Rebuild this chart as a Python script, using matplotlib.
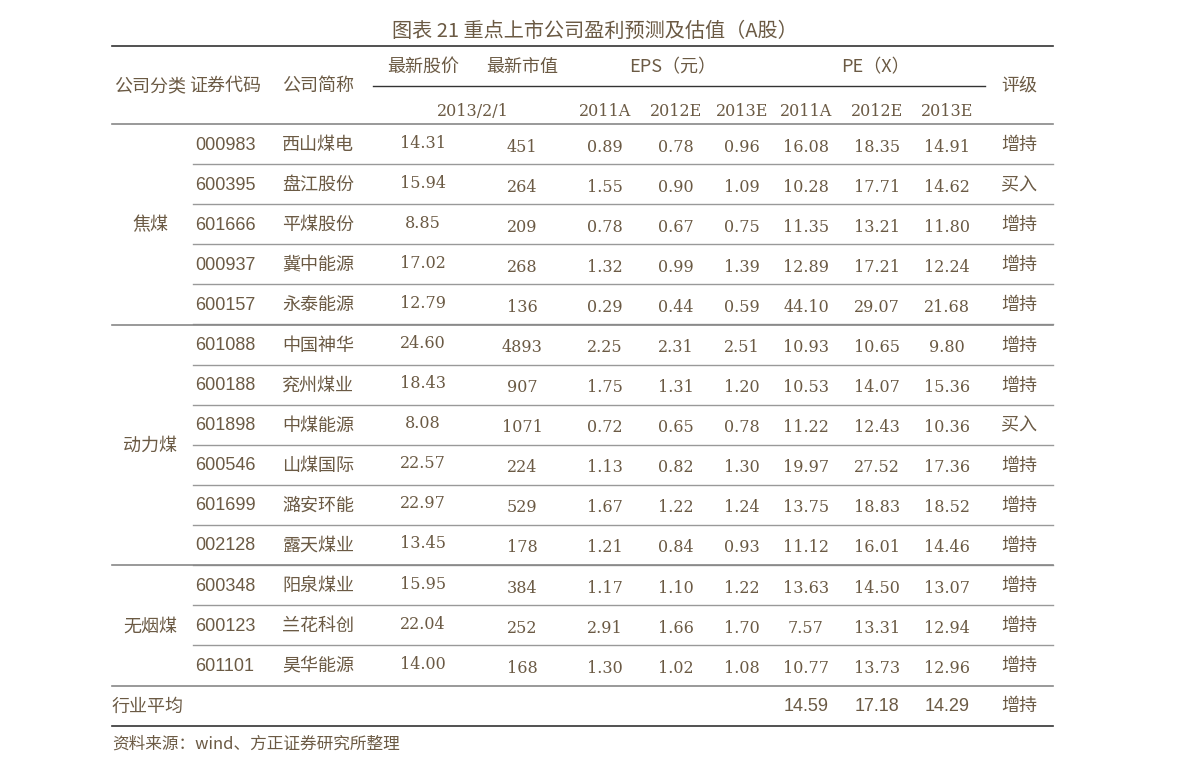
import matplotlib.pyplot as plt

codes = ["000983", "600395", "601666", "000937", "600157", "601088", "600188",
         "601898", "600546", "601699", "002128", "600348", "600123", "601101"]
names = ["西山煤电", "盘江股份", "平煤股份", "冀中能源", "永泰能源", "中国神华", "兖州煤业",
         "中煤能源", "山煤国际", "潞安环能", "露天煤业", "阳泉煤业", "兰花科创", "昊华能源"]
price = ["14.31", "15.94", "8.85", "17.02", "12.79", "24.60", "18.43",
         "8.08", "22.57", "22.97", "13.45", "15.95", "22.04", "14.00"]
mktcap = ["451", "264", "209", "268", "136", "4893", "907", "1071", "224", "529", "178", "384", "252", "168"]
eps11 = ["0.89", "1.55", "0.78", "1.32", "0.29", "2.25", "1.75", "0.72", "1.13", "1.67", "1.21", "1.17", "2.91", "1.30"]
eps12 = ["0.78", "0.90", "0.67", "0.99", "0.44", "2.31", "1.31", "0.65", "0.82", "1.22", "0.84", "1.10", "1.66", "1.02"]
eps13 = ["0.96", "1.09", "0.75", "1.39", "0.59", "2.51", "1.20", "0.78", "1.30", "1.24", "0.93", "1.22", "1.70", "1.08"]
pe11 = ["16.08", "10.28", "11.35", "12.89", "44.10", "10.93", "10.53", "11.22", "19.97", "13.75", "11.12", "13.63", "7.57", "10.77"]
pe12 = ["18.35", "17.71", "13.21", "17.21", "29.07", "10.65", "14.07", "12.43", "27.52", "18.83", "16.01", "14.50", "13.31", "13.73"]
pe13 = ["14.91", "14.62", "11.80", "12.24", "21.68", "9.80", "15.36", "10.36", "17.36", "18.52", "14.46", "13.07", "12.94", "12.96"]
rating = ["增持", "买入", "增持", "增持", "增持", "增持", "增持", "买入", "增持", "增持", "增持", "增持", "增持", "增持"]
groups = [("焦煤", 0, 5), ("动力煤", 5, 11), ("无烟煤", 11, 14)]
avg_pe = ["14.59", "17.18", "14.29"]
avg_rating = "增持"

col = "#6b5a44"
cjk = ["Noto Sans CJK SC", "DejaVu Sans"]
serif = ["DejaVu Serif"]

fig = plt.figure(figsize=(11.91, 7.73), dpi=100)
ax = fig.add_axes([0, 0, 1, 1])
ax.set_xlim(0, 1191)
ax.set_ylim(773, 0)
ax.axis("off")

xs = dict(cat=150, code=225, name=318, price=423, cap=522, e1=605, e2=676, e3=742,
          p1=806, p2=877, p3=947, rate=1019)
y0, dy = 145, 40.1

def t(x, y, s, fam=cjk, size=13, **kw):
    ax.text(x, y, s, ha="center", va="center", color=col, family=fam, fontsize=size, **kw)

t(595, 31, "图表 21 重点上市公司盈利预测及估值（A股）", size=14.5)
t(150, 86, "公司分类", weight="medium")
t(225, 86, "证券代码", weight="medium")
t(318, 86, "公司简称", weight="medium")
t(423, 67, "最新股价", weight="medium")
t(522, 67, "最新市值", weight="medium")
t(673, 67, "EPS（元）", weight="medium")
t(875, 67, "PE（X）", weight="medium")
t(1019, 86, "评级", weight="medium")
t(473, 111, "2013/2/1", fam=serif, size=11.5)
for k, lab in zip(["e1", "e2", "e3", "p1", "p2", "p3"], ["2011A", "2012E", "2013E"] * 2):
    t(xs[k], 111, lab, fam=serif, size=11.5)

for i in range(len(codes)):
    y = y0 + i * dy
    t(xs["code"], y, codes[i], fam=["Liberation Sans", "DejaVu Sans"], size=13)
    t(xs["name"], y, names[i], weight="medium")
    t(xs["price"], y - 2, price[i], fam=serif, size=11.5)
    t(xs["cap"], y + 2, mktcap[i], fam=serif, size=11.5)
    for k, arr in zip(["e1", "e2", "e3", "p1", "p2", "p3"], [eps11, eps12, eps13, pe11, pe12, pe13]):
        t(xs[k], y + 2, arr[i], fam=serif, size=11.5)
    t(xs["rate"], y, rating[i], weight="medium")
    if i < len(codes) - 1:
        ax.plot([193, 1053], [y + 19, y + 19], color="#999999", lw=1)

for name, a, b in groups:
    t(xs["cat"], y0 + (a + b - 1) / 2 * dy, name, weight="medium")
    if a > 0:
        ax.plot([112, 1053], [y0 + a * dy - 21, y0 + a * dy - 21], color="#888888", lw=1.2)

ya = y0 + len(codes) * dy
ax.text(112, ya, "行业平均", ha="left", va="center", color=col, family=cjk, fontsize=13, weight="medium")
for k, v in zip(["p1", "p2", "p3"], avg_pe):
    t(xs[k], ya, v, fam=["Liberation Sans", "DejaVu Sans"], size=13)
t(xs["rate"], ya, avg_rating, weight="medium")

ax.plot([112, 1053], [46, 46], color="#333333", lw=1.2)
ax.plot([373, 985], [86, 86], color="#333333", lw=1)
ax.plot([112, 1053], [124, 124], color="#888888", lw=1.2)
ax.plot([112, 1053], [ya - 20, ya - 20], color="#888888", lw=1.2)
ax.plot([112, 1053], [ya + 20, ya + 20], color="#333333", lw=1.2)
ax.text(112, 744, "资料来源：wind、方正证券研究所整理", ha="left", va="center", color=col,
        family=cjk, fontsize=12, style="italic")

fig.savefig("out.png", dpi=100)
